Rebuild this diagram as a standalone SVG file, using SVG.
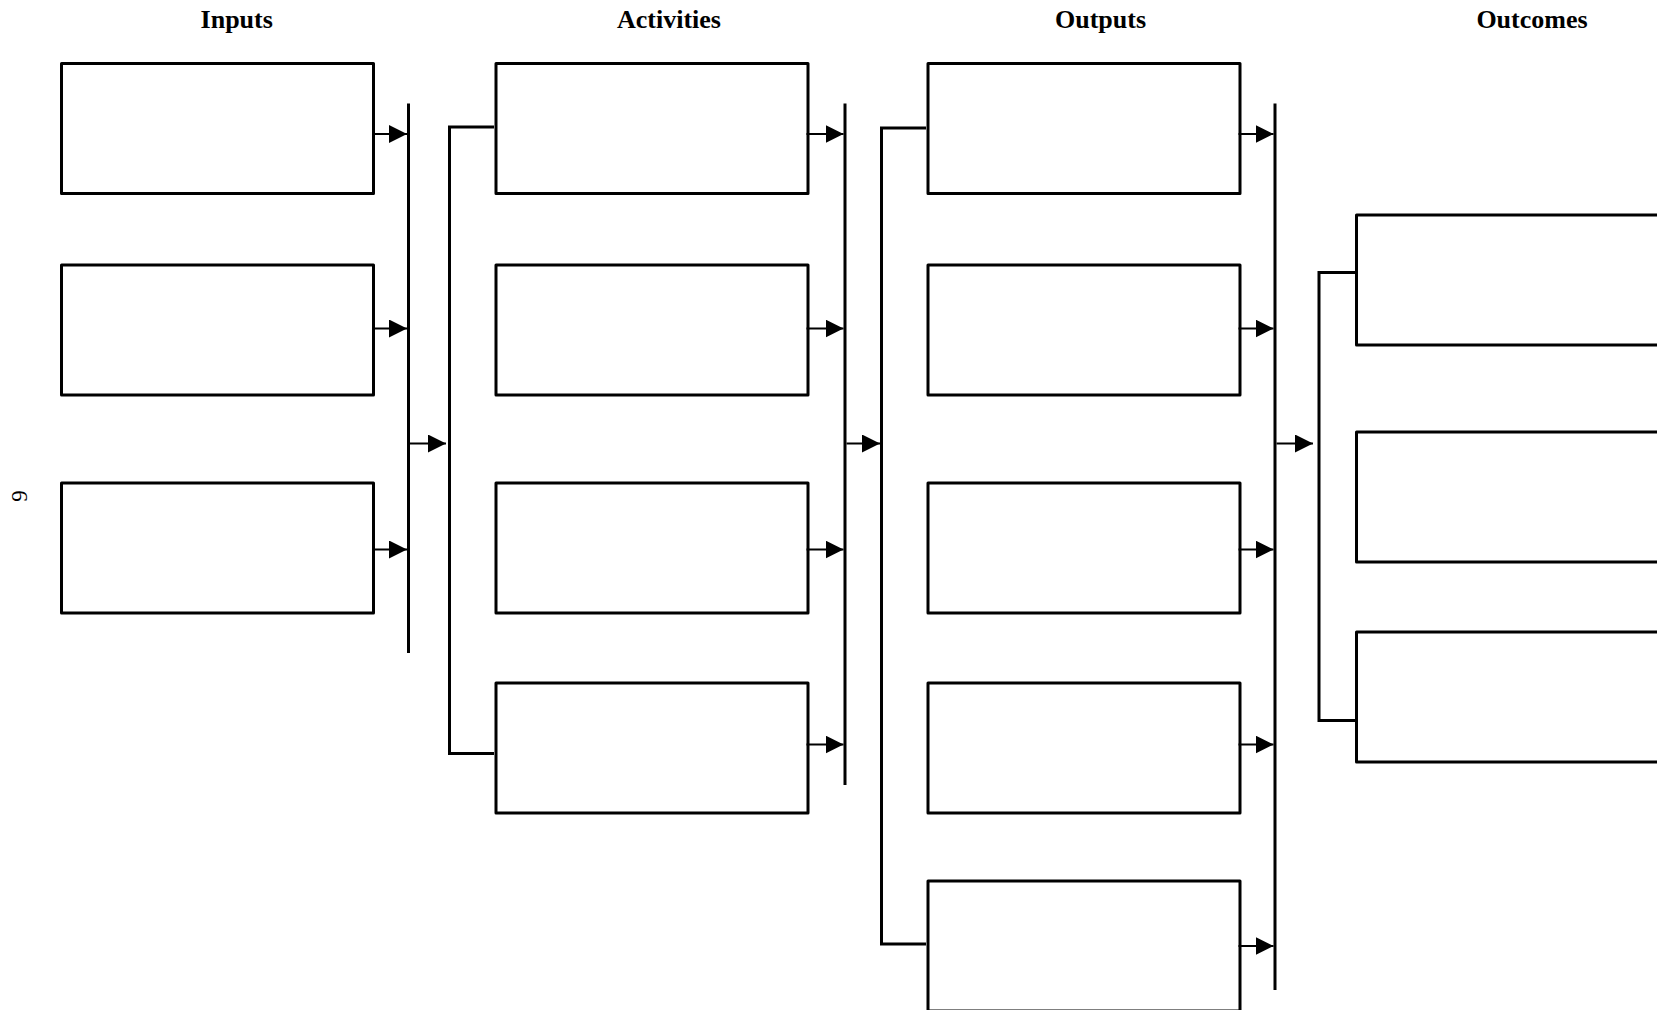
<svg xmlns="http://www.w3.org/2000/svg" width="1657" height="1010" viewBox="0 0 1657 1010">
<defs>
<style>
.box{fill:#fff;stroke:#000;stroke-width:3;stroke-linejoin:round}
.bar{fill:none;stroke:#000;stroke-width:3}
.arr{fill:none;stroke:#000;stroke-width:1.8}
.title{font-family:"Liberation Serif","Times New Roman",serif;font-weight:bold;font-size:26px;text-anchor:middle;fill:#000}
.pg{font-family:"Liberation Serif","Times New Roman",serif;font-size:23px;text-anchor:middle;fill:#000}
</style>
<marker id="ah" markerUnits="userSpaceOnUse" markerWidth="18" markerHeight="18" refX="18" refY="9" orient="auto" viewBox="0 0 18 18">
<path d="M0,0 L18,9 L0,18 z" fill="#000"/>
</marker>
</defs>
<rect width="1657" height="1010" fill="#fff"/>
<g id="titles">
<text class="title" x="236.7" y="27.5">Inputs</text>
<text class="title" x="669" y="27.5">Activities</text>
<text class="title" x="1100.5" y="27.5">Outputs</text>
<text class="title" x="1532" y="27.5">Outcomes</text>
</g>
<text class="pg" transform="translate(27,496) rotate(-90)">9</text>
<g id="input1"><rect class="box" x="61.5" y="63.5" width="312" height="130"/></g>
<g id="input2"><rect class="box" x="61.5" y="265" width="312" height="130"/></g>
<g id="input3"><rect class="box" x="61.5" y="483" width="312" height="130"/></g>
<g id="activity1"><rect class="box" x="496" y="63.5" width="312" height="130"/></g>
<g id="activity2"><rect class="box" x="496" y="265" width="312" height="130"/></g>
<g id="activity3"><rect class="box" x="496" y="483" width="312" height="130"/></g>
<g id="activity4"><rect class="box" x="496" y="683" width="312" height="130"/></g>
<g id="output1"><rect class="box" x="928" y="63.5" width="312" height="130"/></g>
<g id="output2"><rect class="box" x="928" y="265" width="312" height="130"/></g>
<g id="output3"><rect class="box" x="928" y="483" width="312" height="130"/></g>
<g id="output4"><rect class="box" x="928" y="683" width="312" height="130"/></g>
<g id="output5"><rect class="box" x="928" y="881" width="312" height="130"/></g>
<g id="outcome1"><rect class="box" x="1356.5" y="215" width="312" height="130"/></g>
<g id="outcome2"><rect class="box" x="1356.5" y="432" width="312" height="130"/></g>
<g id="outcome3"><rect class="box" x="1356.5" y="632" width="312" height="130"/></g>
<g id="connectors">
<path class="bar" d="M408.5,103.5 V653"/>
<path class="bar" d="M845,103.5 V785"/>
<path class="bar" d="M1275,103.5 V990"/>
<path class="bar" d="M494,127 H449.5 V753.5 H494"/>
<path class="bar" d="M926,128 H881.5 V944 H926"/>
<path class="bar" d="M1355,272.5 H1319 V720.5 H1355"/>
<path class="arr" marker-end="url(#ah)" d="M372,134 H407"/>
<path class="arr" marker-end="url(#ah)" d="M372,328.5 H407"/>
<path class="arr" marker-end="url(#ah)" d="M372,549.5 H407"/>
<path class="arr" marker-end="url(#ah)" d="M806.5,134 H843.5"/>
<path class="arr" marker-end="url(#ah)" d="M806.5,328.5 H843.5"/>
<path class="arr" marker-end="url(#ah)" d="M806.5,549.5 H843.5"/>
<path class="arr" marker-end="url(#ah)" d="M806.5,744.5 H843.5"/>
<path class="arr" marker-end="url(#ah)" d="M1238.5,134 H1273.5"/>
<path class="arr" marker-end="url(#ah)" d="M1238.5,328.5 H1273.5"/>
<path class="arr" marker-end="url(#ah)" d="M1238.5,549.5 H1273.5"/>
<path class="arr" marker-end="url(#ah)" d="M1238.5,744.5 H1273.5"/>
<path class="arr" marker-end="url(#ah)" d="M1238.5,946 H1273.5"/>
<path class="arr" marker-end="url(#ah)" d="M410,443.5 H446"/>
<path class="arr" marker-end="url(#ah)" d="M846.5,443.5 H880"/>
<path class="arr" marker-end="url(#ah)" d="M1276.5,443.5 H1313"/>
</g>
</svg>
